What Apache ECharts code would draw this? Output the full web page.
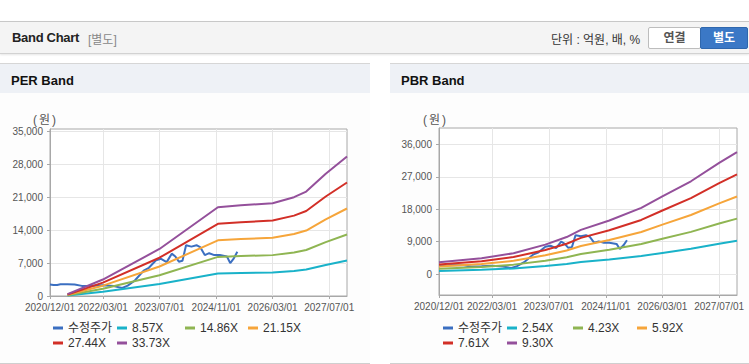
<!DOCTYPE html>
<html><head><meta charset="utf-8">
<script src="https://cdn.jsdelivr.net/npm/echarts@6/dist/echarts.min.js"></script>
<style>
body{margin:0;width:749px;height:364px;overflow:hidden;background:#fff;font-family:"Liberation Sans","Noto Sans CJK KR",sans-serif;position:relative}
.hdr{position:absolute;left:0;top:21px;width:749px;height:31px;background:#f4f4f4;border-top:1px solid #c8c8c8;border-bottom:1px solid #d2d2d2;box-shadow:0 1px 2px rgba(0,0,0,0.10)}
.hdr .t{position:absolute;left:12px;top:8px;font-size:13px;font-weight:bold;color:#222;letter-spacing:-0.3px}
.hdr .s{position:absolute;left:88px;top:8px;font-size:12px;color:#888}
.hdr .u{position:absolute;left:551px;top:8px;font-size:12px;color:#333}
.btn{position:absolute;top:5px;height:20px;line-height:20px;font-size:12px;font-weight:bold;text-align:center;border-radius:2px}
.b1{left:648px;width:51px;background:#fff;border:1px solid #bdbdbd;color:#555}
.b2{left:700px;width:46px;background:#3b78c6;border:1px solid #2f67ad;color:#fff}
.panel{position:absolute;top:63px;height:299px;border-top:1px solid #d6d6d6;border-bottom:1px solid #cfcfcf;background:#fdfdfd}
.ptitle{height:29px;background:#eef1f6;font-weight:bold;font-size:13px;line-height:33px;padding-left:11px;color:#111}
.unit{position:absolute;top:110px;font-size:12px;color:#555;letter-spacing:2px}
#chart{position:absolute;left:0;top:0;width:749px;height:364px}
</style></head>
<body>
<div class="hdr"><span class="t">Band Chart</span><span class="s">[별도]</span><span class="u">단위 : 억원, 배, %</span><div class="btn b1">연결</div><div class="btn b2">별도</div></div>
<div class="panel" style="left:0;width:370px"><div class="ptitle">PER Band</div></div>
<div class="panel" style="left:390px;width:359px"><div class="ptitle">PBR Band</div></div>
<span class="unit" style="left:33px">(원)</span>
<span class="unit" style="left:423px">(원)</span>
<div id="chart"></div>
<script>
// ---- data ----
const xTickLabels = ['2020/12/01','2022/03/01','2023/07/01','2024/11/01','2026/03/01','2027/07/01'];
const perYTicks = [0,7000,14000,21000,28000,35000];
const pbrYTicks = [0,9000,18000,27000,36000];

const priceName = '수정주가';
const priceDates = ['2020-12-01','2021-01-01','2021-02-01','2021-03-01','2021-05-01','2021-07-01','2021-09-01','2021-12-01','2022-03-01','2022-06-01','2022-08-15','2022-10-01','2022-12-01','2023-02-15','2023-04-01','2023-06-01','2023-07-15','2023-09-01','2023-10-15','2023-11-15','2023-12-15','2024-01-15','2024-02-15','2024-04-01','2024-05-15','2024-06-15','2024-07-25','2024-09-01','2024-10-15','2024-12-01','2025-02-01','2025-03-01','2025-04-01','2025-05-01'];
const priceValues = [2450,2350,2350,2500,2500,2450,2150,2200,2300,2100,1700,2200,3300,5400,6000,7600,7900,7200,9000,8400,7300,7500,10800,10500,10800,10400,8700,9100,8700,8700,8400,7000,8000,9400];

const perNames = ['8.57X','14.86X','21.15X','27.44X','33.73X'];
const perBandDates = ['2021-05-01','2022-03-01','2023-07-01','2024-11-15','2025-06-01','2026-03-01','2026-09-01','2026-12-15','2027-06-01','2027-12-01'];
const per857  = [102,889,2541,4792,4904,5011,5336,5641,6607,7537];
const per1486 = [176,1542,4406,8310,8504,8689,9253,9781,11456,13068];
const per2115 = [251,2195,6270,11825,12101,12364,13167,13919,16302,18597];
const per2744 = [325,2847,8135,15343,15700,16042,17084,18060,21151,24128];
const per3373 = [400,3500,10000,18860,19300,19720,21000,22200,26000,29660];

const pbrNames = ['2.54X','4.23X','5.92X','7.61X','9.30X'];
const pbrBandDates = ['2020-12-01','2021-12-01','2022-09-01','2023-06-01','2023-12-01','2024-04-01','2024-12-01','2025-09-01','2026-03-01','2026-11-01','2027-07-01','2027-12-01'];
const pbr254 = [901,1202,1584,2239,2813,3359,4069,5025,5899,7046,8439,9258];
const pbr423 = [1501,2001,2638,3729,4684,5594,6777,8368,9824,11734,14054,15418];
const pbr592 = [2101,2801,3692,5220,6557,7830,9485,11713,13751,16424,19671,21581];
const pbr761 = [2700,3600,4746,6710,8428,10065,12193,15057,17675,21112,25285,27740];
const pbr930 = [3300,4400,5800,8200,10300,12300,14900,18400,21600,25800,30900,33900];

// ---- styles ----
const colors = ['#3b6fc1','#19b2c9','#8fb552','#f6a53a','#d22f27','#94509b'];
const FONT = '"Liberation Sans","Noto Sans CJK KR",sans-serif';
const toTs = s => { const p = s.split(/[-\/]/).map(Number); return Date.UTC(p[0], p[1]-1, p[2]); };
const zip = (d, v) => d.map((x,i)=>[toTs(x), v[i]]);
const xTickTs = xTickLabels.map(toTs);
const pad = n => (n<10?'0':'')+n;
const fmtDate = v => { const d = new Date(v); return d.getUTCFullYear()+'/'+pad(d.getUTCMonth()+1)+'/'+pad(d.getUTCDate()); };

function xAxis(gi){
  return {type:'value', gridIndex:gi, min:toTs('2020-12-01'), max:toTs('2027-12-01'),
    axisLine:{show:true,onZero:false,lineStyle:{color:'#a8a8a8'}},
    axisTick:{show:true,length:3,customValues:xTickTs,lineStyle:{color:'#a8a8a8'}},
    axisLabel:{customValues:xTickTs,formatter:fmtDate,fontSize:10,color:'#555',margin:6,fontFamily:FONT,hideOverlap:false},
    splitLine:{show:true,lineStyle:{color:'#e6e6e6'}}};
}
function yAxis(gi,min,max,ticks){
  return {type:'value', gridIndex:gi, min:min, max:max,
    axisLine:{show:true,lineStyle:{color:'#a8a8a8'}},
    axisTick:{show:true,length:3,customValues:ticks,lineStyle:{color:'#a8a8a8'}},
    axisLabel:{customValues:ticks,fontSize:10,color:'#555',margin:7,fontFamily:FONT,
      formatter:v=>v.toLocaleString('en-US')},
    splitLine:{show:true,lineStyle:{color:'#e6e6e6'}}};
}
function line(name, data, color, gi){
  return {type:'line', name:name, data:data, xAxisIndex:gi, yAxisIndex:gi, showSymbol:false, symbol:'none',
    lineStyle:{width:2,color:color}, itemStyle:{color:color}, z: 2};
}
function legends(names, xs, ys){
  return names.map((n,i)=>({data:[n], left:xs[i], top:ys[i], padding:0, icon:'rect', itemWidth:10, itemHeight:3,
    textStyle:{fontSize:12,color:'#333',fontFamily:FONT}, selectedMode:false}));
}

// price drawn first so the bands lie over it
const perSeries = [
  line(priceName, zip(priceDates, priceValues), colors[0], 0),
  line(perNames[0], zip(perBandDates, per857), colors[1], 0),
  line(perNames[1], zip(perBandDates, per1486), colors[2], 0),
  line(perNames[2], zip(perBandDates, per2115), colors[3], 0),
  line(perNames[3], zip(perBandDates, per2744), colors[4], 0),
  line(perNames[4], zip(perBandDates, per3373), colors[5], 0)
];
const pbrSeries = [
  line(priceName, zip(priceDates, priceValues), colors[0], 1),
  line(pbrNames[0], zip(pbrBandDates, pbr254), colors[1], 1),
  line(pbrNames[1], zip(pbrBandDates, pbr423), colors[2], 1),
  line(pbrNames[2], zip(pbrBandDates, pbr592), colors[3], 1),
  line(pbrNames[3], zip(pbrBandDates, pbr761), colors[4], 1),
  line(pbrNames[4], zip(pbrBandDates, pbr930), colors[5], 1)
];

const legX1 = [53,117,185,248,53,117];
const legX2 = [443,507,573,637,443,507];
const legY = [322,322,322,322,337,337];

const chart = echarts.init(document.getElementById('chart'), null, {renderer:'svg', width:749, height:364});
chart.setOption({
  animation:false,
  backgroundColor:'transparent',
  grid:[
    {left:50, top:129, width:297, height:167, show:true, borderColor:'#a8a8a8', borderWidth:1, backgroundColor:'#fff', containLabel:false},
    {left:439, top:128, width:298, height:167, show:true, borderColor:'#a8a8a8', borderWidth:1, backgroundColor:'#fff', containLabel:false}
  ],
  xAxis:[xAxis(0), xAxis(1)],
  yAxis:[yAxis(0,0,35500,perYTicks), yAxis(1,-5800,40600,pbrYTicks)],
  legend: legends([priceName].concat(perNames), legX1, legY).concat(legends([priceName].concat(pbrNames), legX2, legY)),
  series: perSeries.concat(pbrSeries)
});
</script>
</body></html>
